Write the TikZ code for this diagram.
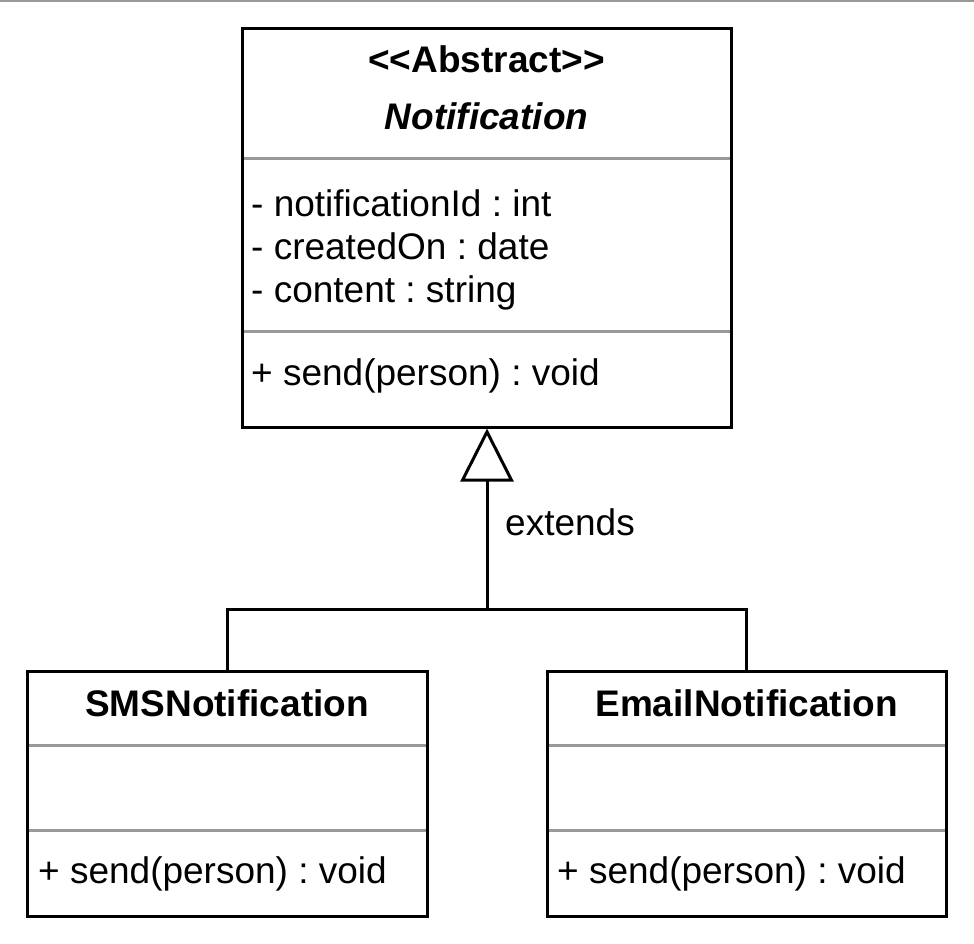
\documentclass[tikz,border=0pt]{standalone}
\usepackage{fontspec}
\setmainfont{Liberation Sans}
\usetikzlibrary{arrows.meta}
\tikzset{
  classbox/.style={draw=black, line width=3pt, fill=white, inner sep=0pt},
  sepline/.style={draw=black!40, line width=3pt},
  conn/.style={draw=black, line width=3pt},
  txt/.style={inner sep=0pt, font=\fontsize{37}{44}\selectfont\frenchspacing},
  lefttxt/.style={txt, anchor=base west},
  titletxt/.style={txt, anchor=base, font=\fontsize{37}{44}\selectfont\bfseries},
}
\begin{document}
\begin{tikzpicture}[x=1pt,y=-1pt]
\useasboundingbox (0,0) rectangle (974,944);
\draw[draw=black!40, line width=2pt] (0,1) -- (974,1);

% Notification
\node[classbox, minimum width=489pt, minimum height=398pt] (N) at (486.5,228) {};
\draw[sepline] (243.5,159) -- (729.5,159);
\draw[sepline] (243.5,331) -- (729.5,331);
\node[titletxt] (Nst) at (486.5,73) {<\kern0pt<Abstract>\kern0pt>};
\node[titletxt, font=\fontsize{37}{44}\selectfont\bfseries\itshape] (Nname) at (486.5,130) {Notification};
\node[lefttxt] (Na1) at (251,217) {- notificationId : int};
\node[lefttxt] (Na2) at (251,259) {- createdOn : date};
\node[lefttxt] (Na3) at (251,302) {- content : string};
\node[lefttxt] (Nm1) at (251,385) {+ send(person) : void};

% SMSNotification
\node[classbox, minimum width=400pt, minimum height=245pt] (S) at (227,793.5) {};
\draw[sepline] (28.5,745) -- (425.5,745);
\draw[sepline] (28.5,830) -- (425.5,830);
\node[titletxt] (Sname) at (227,716) {SMSNotification};
\node[lefttxt] (Sm1) at (38,883) {+ send(person) : void};

% EmailNotification
\node[classbox, minimum width=399pt, minimum height=245pt] (E) at (746.5,793.5) {};
\draw[sepline] (548.5,745) -- (944.5,745);
\draw[sepline] (548.5,830) -- (944.5,830);
\node[titletxt] (Ename) at (746.5,716) {EmailNotification};
\node[lefttxt] (Em1) at (557,883) {+ send(person) : void};

% generalization
\coordinate (J) at (487,609);
\draw[conn, -{Triangle[open, length=53pt, width=53pt, line width=3pt]}] (S.north) |- (J) -- (N.south -| J);
\draw[conn] (E.north) |- (J);
\node[lefttxt] (ext) at (505,535) {extends};
\end{tikzpicture}
\end{document}
